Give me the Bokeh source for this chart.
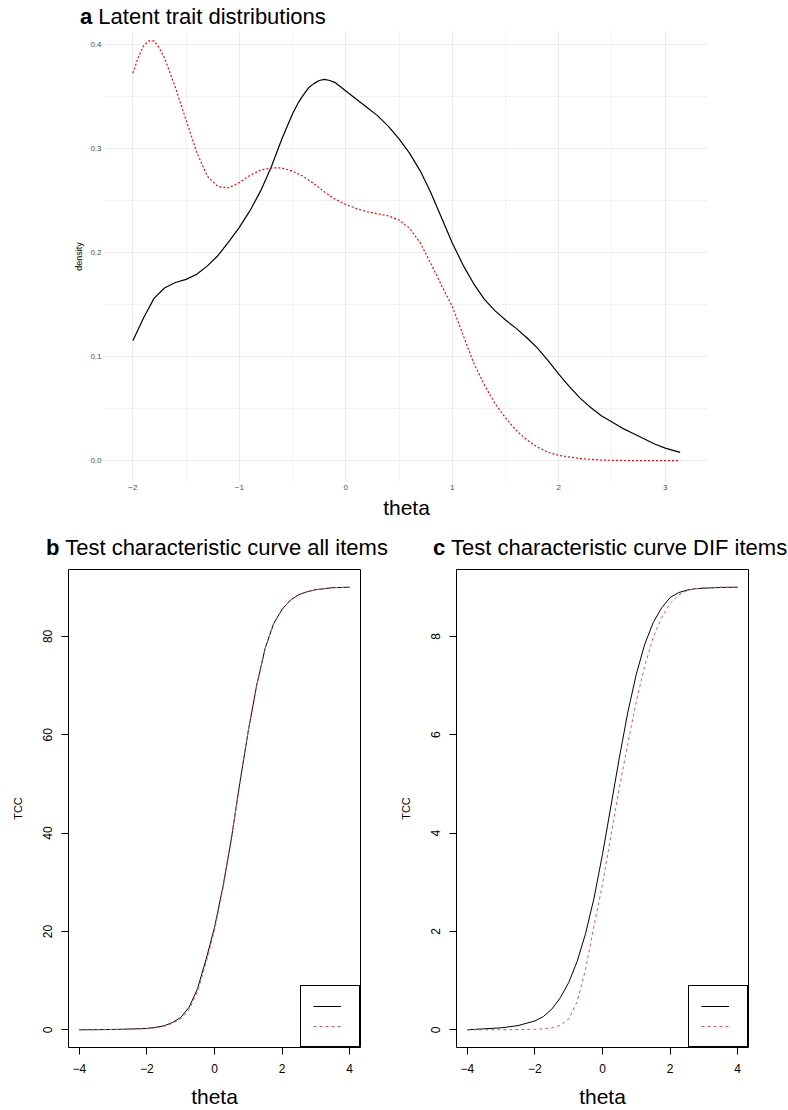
from bokeh.plotting import figure
from bokeh.models import Range1d, FixedTicker, Legend, LegendItem, Div
from bokeh.layouts import column, row
from bokeh.embed import file_html
from bokeh.resources import INLINE

FONT = "Liberation Sans"

# ---------------- Panel a: latent trait densities ----------------
theta_ref = [-2.0, -1.9, -1.8, -1.7, -1.6, -1.5, -1.4, -1.3, -1.2, -1.1, -1.0, -0.9, -0.8,
             -0.7, -0.6, -0.5, -0.45, -0.4, -0.35, -0.3, -0.25, -0.2, -0.15, -0.1, -0.05,
             0.0, 0.1, 0.2, 0.3, 0.4, 0.5, 0.6,
             0.7, 0.8, 0.9, 1.0, 1.1, 1.2, 1.3, 1.4, 1.5, 1.6, 1.7, 1.8, 1.9, 2.0, 2.1,
             2.2, 2.3, 2.4, 2.5, 2.6, 2.7, 2.8, 2.9, 3.0, 3.14]
dens_ref = [0.115, 0.137, 0.156, 0.166, 0.171, 0.174, 0.179, 0.187, 0.197, 0.210, 0.224,
            0.240, 0.259, 0.282, 0.309, 0.333, 0.343, 0.351, 0.358, 0.362, 0.365, 0.366,
            0.365, 0.363, 0.359,
            0.355, 0.347, 0.339, 0.331, 0.321, 0.309, 0.295, 0.278, 0.257, 0.233, 0.209,
            0.188, 0.170, 0.155, 0.144, 0.135, 0.127, 0.118, 0.108, 0.096, 0.083, 0.071,
            0.060, 0.051, 0.043, 0.037, 0.031, 0.026, 0.021, 0.016, 0.012, 0.008]

theta_foc = [-2.0, -1.95, -1.9, -1.85, -1.8, -1.75, -1.7, -1.6, -1.5, -1.4, -1.3, -1.2,
             -1.1, -1.0, -0.9, -0.8, -0.7, -0.6, -0.5, -0.4, -0.3, -0.2, -0.1, 0.0, 0.1,
             0.2, 0.3, 0.4, 0.5, 0.6, 0.7, 0.8, 0.9, 1.0, 1.1, 1.2, 1.3, 1.4, 1.5, 1.6,
             1.7, 1.8, 1.9, 2.0, 2.2, 2.4, 2.7, 3.14]
dens_foc = [0.372, 0.387, 0.398, 0.403, 0.403, 0.396, 0.386, 0.358, 0.327, 0.296, 0.273,
            0.263, 0.262, 0.267, 0.274, 0.279, 0.281, 0.281, 0.278, 0.273, 0.266, 0.258,
            0.251, 0.246, 0.242, 0.239, 0.237, 0.235, 0.231, 0.223, 0.209, 0.189, 0.168,
            0.148, 0.121, 0.094, 0.073, 0.055, 0.041, 0.029, 0.020, 0.013, 0.008, 0.005,
            0.002, 0.0005, 0.0, 0.0]

a_x_ticks = [-2, -1, 0, 1, 2, 3]
a_x_labels = ["\u22122", "\u22121", "0", "1", "2", "3"]
a_x_minor = [-1.5, -0.5, 0.5, 1.5, 2.5]
a_y_ticks = [0.0, 0.1, 0.2, 0.3, 0.4]
a_y_labels = ["0.0", "0.1", "0.2", "0.3", "0.4"]
a_y_minor = [0.05, 0.15, 0.25, 0.35]

# ---------------- Panels b, c: test characteristic curves ----------------
theta_grid = [-4.0, -3.5, -3.0, -2.5, -2.0, -1.75, -1.5, -1.25, -1.0, -0.75, -0.5, -0.25,
              0.0, 0.25, 0.5, 0.75, 1.0, 1.25, 1.5, 1.75, 2.0, 2.25, 2.5, 2.75, 3.0, 3.5, 4.0]
tcc_all_ref = [0.0, 0.03, 0.07, 0.15, 0.28, 0.5, 0.8, 1.45, 2.5, 4.6, 8.4, 14.3, 20.8,
               29.1, 38.9, 50.2, 60.8, 70.1, 77.6, 82.6, 85.5, 87.4, 88.5, 89.1, 89.5, 89.9, 90.0]
tcc_all_foc = [0.0, 0.02, 0.05, 0.11, 0.22, 0.4, 0.68, 1.3, 2.2, 4.1, 7.8, 13.6, 20.2,
               28.7, 38.8, 50.2, 60.8, 70.1, 77.6, 82.6, 85.5, 87.4, 88.5, 89.1, 89.5, 89.9, 90.0]
tcc_dif_ref = [0.0, 0.02, 0.04, 0.085, 0.18, 0.27, 0.42, 0.65, 0.96, 1.39, 1.96, 2.68, 3.57,
               4.55, 5.54, 6.46, 7.23, 7.84, 8.28, 8.58, 8.79, 8.89, 8.94, 8.97, 8.98, 8.995, 9.0]
tcc_dif_foc = [0.0, 0.0, 0.0, 0.005, 0.01, 0.02, 0.04, 0.09, 0.22, 0.57, 1.23, 2.12, 2.96,
               3.95, 4.93, 5.82, 6.68, 7.40, 7.98, 8.38, 8.67, 8.84, 8.93, 8.97, 8.99, 9.0, 9.0]

tcc_x_ticks = [-4, -2, 0, 2, 4]
tcc_x_labels = ["\u22124", "\u22122", "0", "2", "4"]
all_y_ticks = [0, 20, 40, 60, 80]
dif_y_ticks = [0, 2, 4, 6, 8]

TITLE_A = ("a", "Latent trait distributions")
TITLE_B = ("b", "Test characteristic curve all items")
TITLE_C = ("c", "Test characteristic curve DIF items")


def title_div(bold, rest, width, height, pad_left, pad_top):
    html = ('<div style="padding-left:%dpx; padding-top:%dpx; font-family:\'%s\', Arial, sans-serif; '
            'font-size:22px; line-height:22px; white-space:nowrap; color:black;">'
            '<b>%s</b> %s</div>') % (pad_left, pad_top, FONT, bold, rest)
    return Div(text=html, width=width, height=height, margin=0)


# ---- figure a ----
pa = figure(width=788, height=492, x_range=Range1d(-2.257, 3.397),
            y_range=Range1d(-0.021, 0.413), output_backend="svg",
            toolbar_location=None, title=None,
            min_border_left=105, min_border_right=81, min_border_top=0,
            min_border_bottom=40)
pa.outline_line_color = None
pa.background_fill_color = "white"
pa.border_fill_color = "white"

pa.xaxis.ticker = FixedTicker(ticks=a_x_ticks, minor_ticks=a_x_minor)
pa.yaxis.ticker = FixedTicker(ticks=a_y_ticks, minor_ticks=a_y_minor)
pa.xaxis.major_label_overrides = dict(zip(a_x_ticks, a_x_labels))
pa.yaxis.major_label_overrides = dict(zip(a_y_ticks, a_y_labels))
for ax in (pa.xaxis, pa.yaxis):
    ax.axis_line_color = None
    ax.major_tick_line_color = None
    ax.minor_tick_line_color = None
    ax.major_tick_out = 0
    ax.major_tick_in = 0
    ax.minor_tick_out = 0
    ax.minor_tick_in = 0
    ax.major_label_text_font = FONT
    ax.major_label_text_font_size = "8px"
    ax.major_label_text_color = "#4D4D4D"
    ax.axis_label_text_font = FONT
    ax.axis_label_text_font_style = "normal"
    ax.axis_label_text_color = "black"
pa.xaxis.major_label_standoff = 2
pa.xaxis.axis_label = "theta"
pa.xaxis.axis_label_text_font_size = "21px"
pa.xaxis.axis_label_standoff = 3
pa.yaxis.major_label_standoff = 4
pa.yaxis.axis_label = "density"
pa.yaxis.axis_label_text_font_size = "9px"
pa.yaxis.axis_label_standoff = 3

for g in (pa.xgrid, pa.ygrid):
    g.grid_line_color = "#EBEBEB"
    g.grid_line_width = 1.1
    g.minor_grid_line_color = "#EBEBEB"
    g.minor_grid_line_width = 0.7

pa.line(theta_ref, dens_ref, line_color="black", line_width=1.2)
pa.line(theta_foc, dens_foc, line_color="#FF0000", line_width=1.2, line_dash="2 2")

div_a = title_div(TITLE_A[0], TITLE_A[1], 788, 30, 80, 6)


# ---- figures b and c ----
def tcc_panel(ref, foc, y_ticks, y_range, left, right):
    p = figure(width=394, height=541, x_range=Range1d(-4.32, 4.32), y_range=y_range,
               output_backend="svg", toolbar_location=None, title=None,
               min_border_left=left, min_border_right=right, min_border_top=0,
               min_border_bottom=63)
    p.grid.visible = False
    p.outline_line_color = "black"
    p.outline_line_width = 1
    p.background_fill_color = "white"
    p.border_fill_color = "white"
    p.xaxis.ticker = FixedTicker(ticks=tcc_x_ticks, minor_ticks=[])
    p.xaxis.major_label_overrides = dict(zip(tcc_x_ticks, tcc_x_labels))
    p.yaxis.ticker = FixedTicker(ticks=y_ticks, minor_ticks=[])
    for ax in (p.xaxis, p.yaxis):
        ax.axis_line_color = None
        ax.major_tick_line_color = "black"
        ax.major_tick_line_width = 1
        ax.major_tick_out = 7
        ax.major_tick_in = 0
        ax.minor_tick_line_color = None
        ax.minor_tick_out = 0
        ax.major_label_text_font = FONT
        ax.major_label_text_font_size = "12px"
        ax.major_label_text_color = "black"
        ax.major_label_standoff = 9
        ax.axis_label_text_font = FONT
        ax.axis_label_text_font_style = "normal"
        ax.axis_label_text_color = "black"
    p.xaxis.axis_label = "theta"
    p.xaxis.axis_label_text_font_size = "21px"
    p.xaxis.axis_label_standoff = 9
    p.yaxis.axis_label = "TCC"
    p.yaxis.axis_label_text_font_size = "11px"
    p.yaxis.axis_label_standoff = 17
    p.yaxis.major_label_orientation = "vertical"

    r1 = p.line(theta_grid, ref, line_color="black", line_width=1)
    r2 = p.line(theta_grid, foc, line_color="#DF536B", line_width=1, line_dash="3 3")
    legend = Legend(items=[LegendItem(label=" ", renderers=[r1]),
                           LegendItem(label=" ", renderers=[r2])],
                    location="bottom_right", margin=0, padding=12, spacing=4,
                    glyph_width=28, glyph_height=16, label_height=16, label_width=6,
                    label_standoff=0, label_text_font_size="8px",
                    border_line_color="black", border_line_width=1, border_line_alpha=1,
                    background_fill_color="white", background_fill_alpha=1)
    p.add_layout(legend)
    return p


pb = tcc_panel(tcc_all_ref, tcc_all_foc, all_y_ticks, Range1d(-3.6, 93.6), 68, 34)
pc = tcc_panel(tcc_dif_ref, tcc_dif_foc, dif_y_ticks, Range1d(-0.36, 9.36), 62, 40)

div_b = title_div(TITLE_B[0], TITLE_B[1], 394, 47, 46, 15)
div_c = title_div(TITLE_C[0], TITLE_C[1], 394, 47, 39, 15)

layout = column(div_a, pa,
                row(column(div_b, pb, spacing=0), column(div_c, pc, spacing=0), spacing=0),
                spacing=0)
open("out.html", "w").write(file_html(layout, INLINE))
